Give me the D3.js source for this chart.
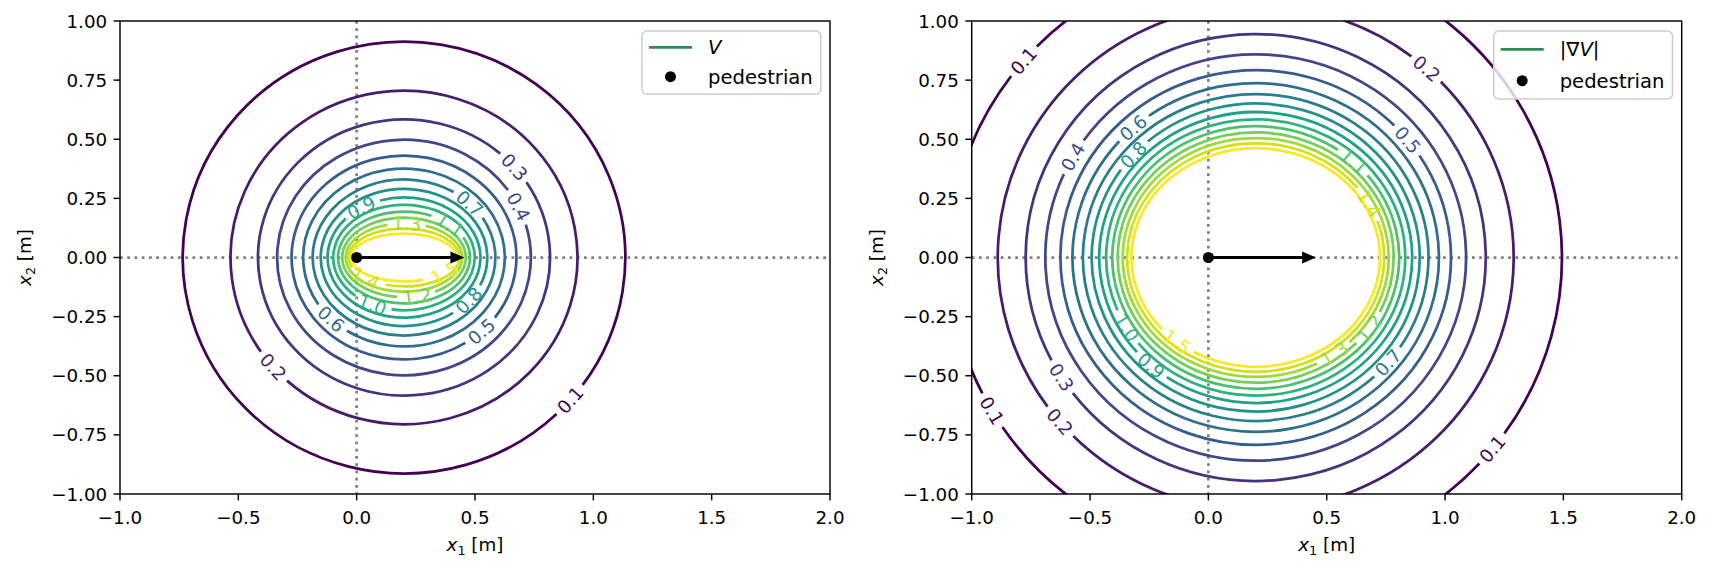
<!DOCTYPE html>
<html>
<head>
<meta charset="utf-8">
<script src="https://cdn.jsdelivr.net/npm/d3@7"></script>
<style>
body{margin:0;background:#fff}
text{font-family:"DejaVu Sans",sans-serif;fill:#000}
</style>
</head>
<body>
<svg id="fig" width="1713" height="572"></svg>
<script>
// contour levels (same for both panels)
const levels = [0.1,0.2,0.3,0.4,0.5,0.6,0.7,0.8,0.9,1.0,1.1,1.2,1.3,1.4,1.5]
// every contour is a closed oval centred on the middle of the step
const ovalCenter = [0.2, 0]
// half widths / half heights of each V contour [m]
const vHalfX = [0.935,0.733,0.617,0.536,0.475,0.426,0.386,0.352,0.323,0.299,0.279,0.261,0.246,0.234,0.224]
const vHalfY = [0.913,0.705,0.584,0.498,0.431,0.376,0.330,0.290,0.254,0.223,0.194,0.168,0.144,0.122,0.101]
// half widths / half heights of each |grad V| contour [m]
const gHalfX = [1.294,1.090,0.972,0.889,0.825,0.774,0.730,0.693,0.661,0.632,0.606,0.583,0.562,0.543,0.525]
const gHalfY = [1.275,1.067,0.945,0.859,0.792,0.737,0.691,0.651,0.615,0.584,0.555,0.529,0.505,0.483,0.462]
// where the inline labels sit: [level, x1, x2]
const vLabelAt = [[0.1,0.895,-0.595],[0.2,-0.345,-0.455],[0.3,0.672,0.387],[0.4,0.713,0.23],[0.5,0.528,-0.314],
  [0.6,-0.105,-0.257],[0.7,0.472,0.222],[0.8,0.472,-0.18],[0.9,0.021,0.208],[1.0,0.07,-0.187],[1.1,0.408,0.159],
  [1.2,0.254,-0.159],[1.3,0.211,0.145],[1.4,0.03,-0.10],[1.5,0.373,-0.067]]
const gLabelAt = [[0.1,-0.777,0.828],[0.1,-0.91,-0.645],[0.1,1.206,-0.814],[0.2,0.922,0.80],[0.2,-0.626,-0.694],
  [0.3,-0.617,-0.504],[0.4,-0.572,0.426],[0.5,0.851,0.504],[0.6,-0.314,0.546],[0.7,0.762,-0.447],[0.8,-0.323,0.44],
  [0.9,-0.234,-0.447],[1.0,-0.341,-0.293],[1.1,0.620,0.412],[1.2,0.690,-0.307],[1.3,0.539,-0.419],[1.4,0.682,0.229],
  [1.5,-0.128,-0.349]]
// pedestrian and its step
const pedestrian = [0, 0]
const step = [0.4, 0]
const xTicks = [-1,-0.5,0,0.5,1,1.5,2]
const yTicks = [-1,-0.75,-0.5,-0.25,0,0.25,0.5,0.75,1]

const svg = d3.select("#fig")
svg.append("rect").attr("width",1713).attr("height",572).attr("fill","#fff")
const FS = 18.3
const LFS = 19.6
const axW = 710, axH = 473, axTop = 21
const fmt = (v,n)=>d3.format(`.${n}f`)(v).replace("-","\u2212")

let panels = [
  {id:"p0",left:120,hx:vHalfX,hy:vHalfY,labels:vLabelAt,legend:"V",rows:[47.3,76.7],boxH:63.3},
  {id:"p1",left:971.7,hx:gHalfX,hy:gHalfY,labels:gLabelAt,legend:"grad",rows:[49.3,80.7],boxH:68}
]

panels.forEach(p=>{
  let x = d3.scaleLinear().domain([-1,2]).range([p.left,p.left+axW])
  let y = d3.scaleLinear().domain([-1,1]).range([axTop+axH,axTop])
  let g = svg.append("g")
  svg.append("clipPath").attr("id","clip"+p.id).append("rect")
    .attr("x",p.left).attr("y",axTop).attr("width",axW).attr("height",axH)
  let inner = g.append("g").attr("clip-path",`url(#clip${p.id})`)

  //dotted zero lines
  inner.append("line").attr("x1",x(-1)).attr("x2",x(2)).attr("y1",y(0)).attr("y2",y(0))
    .attr("stroke","#808080").attr("stroke-width",2.75).attr("stroke-dasharray","2.75 4.5")
  inner.append("line").attr("x1",x(0)).attr("x2",x(0)).attr("y1",y(1)).attr("y2",y(-1))
    .attr("stroke","#808080").attr("stroke-width",2.75).attr("stroke-dasharray","2.75 4.5")

  drawContours(inner,x,y,p.hx,p.hy,p.labels)

  //arrow (matplotlib style: head added after the step)
  let hw=0.02, hl=0.045, sw=0.0025
  let x0=pedestrian[0], y0=pedestrian[1], x1=x0+step[0]
  let poly=[[x0,y0+sw],[x1,y0+sw],[x1,y0+hw],[x1+hl,y0],[x1,y0-hw],[x1,y0-sw],[x0,y0-sw]]
  inner.append("path").attr("d","M"+poly.map(d=>[x(d[0]),y(d[1])].join(",")).join("L")+"Z")
    .attr("fill","#000").attr("stroke","#000").attr("stroke-width",1.8).attr("stroke-linejoin","miter")
  inner.append("circle").attr("cx",x(pedestrian[0])).attr("cy",y(pedestrian[1])).attr("r",5.5).attr("fill","#000")

  //spines
  g.append("rect").attr("x",p.left).attr("y",axTop).attr("width",axW).attr("height",axH)
    .attr("fill","none").attr("stroke","#000").attr("stroke-width",1.45)
  //ticks
  xTicks.forEach(t=>{
    g.append("line").attr("x1",x(t)).attr("x2",x(t)).attr("y1",axTop+axH).attr("y2",axTop+axH+6.4)
      .attr("stroke","#000").attr("stroke-width",1.45)
    g.append("text").attr("x",x(t)).attr("y",axTop+axH+30).attr("text-anchor","middle")
      .attr("font-size",FS).text(fmt(t,1))
  })
  yTicks.forEach(t=>{
    g.append("line").attr("x1",p.left-6.4).attr("x2",p.left).attr("y1",y(t)).attr("y2",y(t))
      .attr("stroke","#000").attr("stroke-width",1.45)
    g.append("text").attr("x",p.left-12.8).attr("y",y(t)).attr("dy","0.36em").attr("text-anchor","end")
      .attr("font-size",FS).text(fmt(t,2))
  })
  //axis labels
  let xl=g.append("text").attr("x",p.left+axW/2).attr("y",551).attr("text-anchor","middle").attr("font-size",FS)
  mathLabel(xl,"1")
  let yl=g.append("text").attr("transform",`translate(${p.left-89},${axTop+axH/2}) rotate(-90)`)
    .attr("text-anchor","middle").attr("font-size",FS)
  mathLabel(yl,"2")

  drawLegend(g,p)
})

function mathLabel(t,sub){
  t.append("tspan").attr("font-style","italic").text("x")
  t.append("tspan").attr("font-size",FS*0.7).attr("dy",4).text(sub)
  t.append("tspan").attr("dy",-4).text(" [m]")
}

function drawContours(g,x,y,hx,hy,labelAt){
  levels.forEach((lv,i)=>{
    let color=d3.interpolateViridis(i/(levels.length-1))
    let cx=x(ovalCenter[0]), cy=y(ovalCenter[1])
    let rx=x(ovalCenter[0]+hx[i])-cx, ry=cy-y(ovalCenter[1]+hy[i])
    let pt=t=>[cx+rx*Math.cos(t),cy-ry*Math.sin(t)]
    let gaps=[]
    labelAt.filter(d=>Math.abs(d[0]-lv)<1e-9).forEach(d=>{
      let px=x(d[1]), py=y(d[2]), best=0, bd=Infinity
      for(let k=0;k<3600;k++){
        let t=k/3600*2*Math.PI, q=pt(t)
        let dd=(q[0]-px)**2+(q[1]-py)**2
        if(dd<bd){bd=dd;best=t}
      }
      let q=pt(best)
      let dx=-rx*Math.sin(best), dy=-ry*Math.cos(best)
      let ang=Math.atan2(dy,dx)*180/Math.PI
      if(ang>90) ang-=180
      if(ang<-90) ang+=180
      let txt=g.append("text").attr("transform",`translate(${q[0]},${q[1]}) rotate(${ang})`)
        .attr("text-anchor","middle").attr("dy","0.36em").attr("font-size",FS)
        .style("fill",color).text(d3.format(".1f")(lv))
      let w=txt.node().getComputedTextLength()
      let half=(w/2+5)/Math.hypot(dx,dy)
      gaps.push([best-half,best+half])
    })
    let d=""
    if(!gaps.length){
      let a=pt(0), b=pt(Math.PI)
      d=`M${a}A${rx},${ry} 0 1 0 ${b}A${rx},${ry} 0 1 0 ${a}`
    }else{
      gaps.sort((a,b)=>a[0]-b[0])
      gaps.forEach((gp,k)=>{
        let s=gp[1]
        let e=k<gaps.length-1?gaps[k+1][0]:gaps[0][0]+2*Math.PI
        if(e<=s) return
        let large=(e-s)>Math.PI?1:0
        d+=`M${pt(s)}A${rx},${ry} 0 ${large} 0 ${pt(e)}`
      })
    }
    g.insert("path","text").attr("d",d).attr("fill","none").attr("stroke",color).attr("stroke-width",2.75)
  })
}

function drawLegend(g,p){
  let right=p.left+axW-9.2, top=31
  let lg=g.append("g")
  let box=lg.append("rect").attr("y",top).attr("height",p.boxH).attr("rx",5)
    .attr("fill","#fff").attr("fill-opacity",0.8).attr("stroke","#cccccc").attr("stroke-width",1.5)
  let t1=lg.append("text").attr("y",p.rows[0]).attr("dy","0.36em").attr("font-size",LFS)
  if(p.legend==="V"){
    t1.append("tspan").attr("font-style","italic").text("V")
  }else{
    t1.append("tspan").text("|\u2207")
    t1.append("tspan").attr("font-style","italic").text("V")
    t1.append("tspan").text("|")
  }
  let t2=lg.append("text").attr("y",p.rows[1]).attr("dy","0.36em").attr("font-size",LFS).text("pedestrian")
  let tw=Math.max(t1.node().getComputedTextLength(),t2.node().getComputedTextLength())
  let left=right-(66+tw+8)
  box.attr("x",left).attr("width",right-left)
  t1.attr("x",left+66); t2.attr("x",left+66)
  lg.append("line").attr("x1",left+7).attr("x2",left+50).attr("y1",p.rows[0]).attr("y2",p.rows[0])
    .attr("stroke","#2e8b57").attr("stroke-width",2.75)
  lg.append("circle").attr("cx",left+28.5).attr("cy",p.rows[1]).attr("r",5.5).attr("fill","#000")
}
</script>
</body>
</html>
